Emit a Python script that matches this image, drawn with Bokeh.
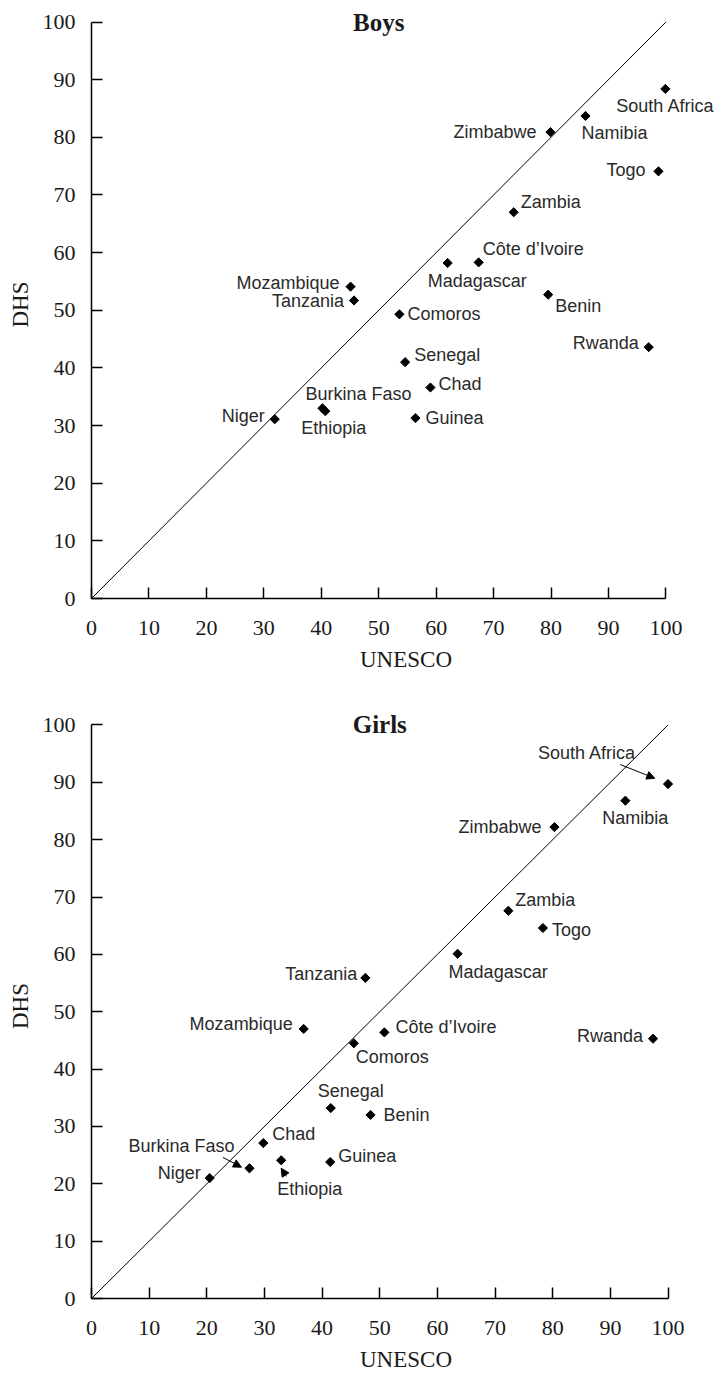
import math
from bokeh.plotting import figure
from bokeh.models import Range1d, FixedTicker, ColumnDataSource, Label, Arrow, NormalHead
from bokeh.layouts import column
from bokeh.embed import file_html
from bokeh.resources import INLINE

# ---------------- data ----------------
countries = ["South Africa", "Namibia", "Zimbabwe", "Togo", "Zambia", "Côte d’Ivoire",
             "Madagascar", "Benin", "Comoros", "Mozambique", "Tanzania", "Rwanda",
             "Senegal", "Chad", "Guinea", "Niger", "Burkina Faso", "Ethiopia"]

boys_unesco = [99.9, 86.0, 79.9, 98.7, 73.5, 67.4, 62.0, 79.5, 53.6, 45.1, 45.7, 97.0,
               54.6, 59.0, 56.4, 31.9, 40.2, 40.7]
boys_dhs = [88.4, 83.7, 80.9, 74.1, 67.0, 58.3, 58.2, 52.7, 49.3, 54.1, 51.7, 43.6,
            41.0, 36.6, 31.3, 31.1, 33.0, 32.5]

girls_unesco = [100.0, 92.6, 80.3, 78.3, 72.3, 50.8, 63.5, 48.4, 45.5, 36.8, 47.5, 97.4,
                41.5, 29.8, 41.4, 20.5, 27.4, 32.9]
girls_dhs = [89.7, 86.8, 82.2, 64.6, 67.6, 46.4, 60.1, 32.0, 44.5, 47.0, 55.9, 45.3,
             33.2, 27.1, 23.8, 21.0, 22.7, 24.1]

ticks = [0, 10, 20, 30, 40, 50, 60, 70, 80, 90, 100]
diag = [0, 100]
titles = ["Boys", "Girls"]
x_title = "UNESCO"
y_title = "DHS"

# ---------------- label placement (styles, screen px; +dy = down) ----------------
boys_lbl = [(0, 17, "center"), (-4, 17, "left"), (-14, 0, "right"), (-13, -1, "right"),
            (7, -10, "left"), (4, -13, "left"), (-20, 18, "left"), (7, 11, "left"),
            (8, 0, "left"), (-11, -4, "right"), (-10, 1, "right"), (-10, -4, "right"),
            (9, -7, "left"), (8, -4, "left"), (10, 0, "left"), (-10, -3, "right"),
            (-17, -14, "left"), (-24, 17, "left")]
girls_lbl = [(-32, -31, "right"), (10, 17, "center"), (-13, 0, "right"), (9, 2, "left"),
             (7, -11, "left"), (11, -5, "left"), (-9, 18, "left"), (13, 0, "left"),
             (2, 14, "left"), (-11, -5, "right"), (-8, -4, "right"), (-10, -3, "right"),
             (-13, -17, "left"), (9, -9, "left"), (8, -6, "left"), (-9, -5, "right"),
             (-15, -22, "right"), (-4, 29, "left")]
# arrows for girls: country -> (start offset, end offset) in data units
girls_arrows = {"South Africa": ((-8.3, 3.4), (-2.3, 1.0)),
                "Burkina Faso": ((-4.6, 1.9), (-1.4, 0.2)),
                "Ethiopia": ((0.9, -2.8), (0.0, -1.4))}

SERIF = "Liberation Serif"
SANS = "Liberation Sans"


def make_plot(xs, ys, lbl, title, width, height, bl, bt, bb, xend, xstd, xlab_std, arrows=None):
    p = figure(width=width, height=height, output_backend="svg", toolbar_location=None,
               x_range=Range1d(0, xend), y_range=Range1d(0, 102),
               min_border_left=bl, min_border_right=0, min_border_top=bt, min_border_bottom=bb)
    p.outline_line_color = None
    p.grid.visible = False
    p.background_fill_color = "white"
    p.border_fill_color = "white"

    for ax in (p.xaxis[0], p.yaxis[0]):
        ax.bounds = (0, 100)
        ax.ticker = FixedTicker(ticks=ticks)
        ax.major_tick_in = 11
        ax.major_tick_out = 0
        ax.minor_tick_line_color = None
        ax.axis_line_width = 1.5
        ax.axis_line_color = "black"
        ax.major_tick_line_width = 1.5
        ax.major_tick_line_color = "black"
        ax.major_label_text_font = SERIF
        ax.major_label_text_font_size = "22px"
        ax.major_label_text_color = "#1a1a1a"
        ax.axis_label_text_font = SERIF
        ax.axis_label_text_font_size = "23px"
        ax.axis_label_text_font_style = "normal"
        ax.axis_label_text_color = "#1a1a1a"
    p.xaxis[0].axis_label = x_title
    p.yaxis[0].axis_label = y_title
    p.xaxis[0].major_label_standoff = xstd
    p.xaxis[0].axis_label_standoff = xlab_std
    p.yaxis[0].major_label_standoff = 16
    p.yaxis[0].axis_label_standoff = 7

    p.line(diag, diag, line_color="black", line_width=1)

    src = ColumnDataSource(dict(x=xs, y=ys, name=countries,
                                dx=[l[0] for l in lbl], dy=[l[1] for l in lbl],
                                align=[l[2] for l in lbl]))
    p.scatter("x", "y", source=src, marker="square", size=6.5, angle=math.pi / 4,
              fill_color="black", line_color="black")
    p.text("x", "y", text="name", source=src, x_offset="dx", y_offset="dy",
           text_align="align", text_baseline="middle", text_font_size="18px",
           text_font={"value": SANS}, text_color="#2a2a2a")

    if arrows:
        for name, (s, e) in arrows.items():
            i = countries.index(name)
            p.add_layout(Arrow(x_start=xs[i] + s[0], y_start=ys[i] + s[1],
                               x_end=xs[i] + e[0], y_end=ys[i] + e[1],
                               line_color="black", line_width=1,
                               end=NormalHead(size=8, fill_color="black", line_color="black")))

    p.add_layout(Label(x=50, y=100, text=title, text_align="center", text_baseline="middle",
                       text_font=SERIF, text_font_style="bold", text_font_size="25px",
                       text_color="#1a1a1a"))
    return p


p1 = make_plot(boys_unesco, boys_dhs, boys_lbl, titles[0], 720, 688, 89, 10, 90, 109.5, 22, 9)
p2 = make_plot(girls_unesco, girls_dhs, girls_lbl, titles[1], 720, 686, 91, 25, 73, 109.1, 22, 9,
               arrows=girls_arrows)

layout = column(p1, p2, spacing=0)
open("out.html", "w").write(file_html(layout, INLINE))
